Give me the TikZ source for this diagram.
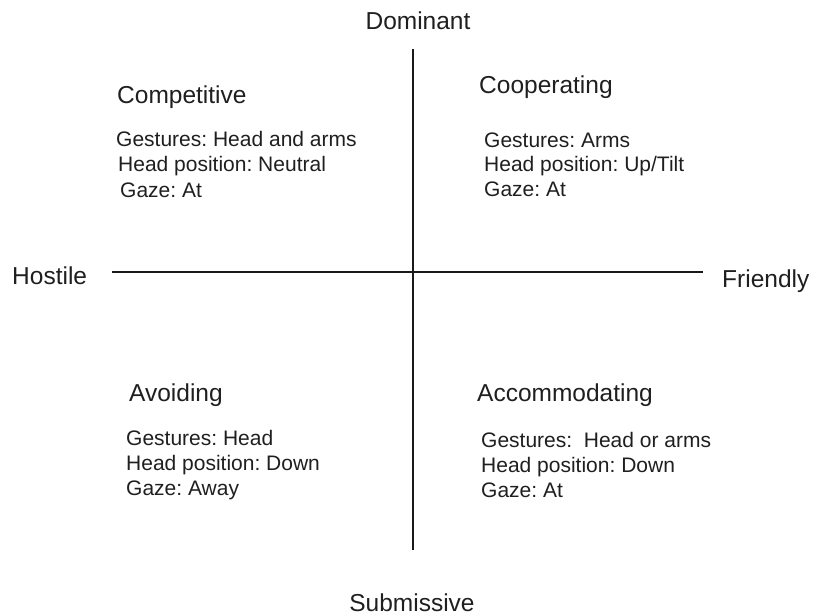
\documentclass[tikz,border=0pt]{standalone}
\usepackage{fontspec}
\setmainfont{Liberation Sans}
\begin{document}
\frenchspacing
\begin{tikzpicture}[x=1pt,y=-1pt,
  axis/.style={line width=2.4pt,draw=black!90},
  pole/.style={font=\fontsize{24.5}{28}\selectfont,text=black!88,inner sep=0pt},
  title/.style={font=\fontsize{24.5}{28}\selectfont,text=black!88,inner sep=0pt,anchor=base west},
  info/.style={font=\fontsize{21}{25}\selectfont,text=black!88,inner sep=0pt,anchor=base west}]
\useasboundingbox (0,0) rectangle (815,616);
% axes
\coordinate (top) at (413,49);
\coordinate (bottom) at (413,550);
\coordinate (left) at (112,272);
\coordinate (right) at (703,272);
\draw[axis] (top) -- (bottom);
\draw[axis] (left) -- (right);
% pole labels
\node[pole,anchor=base] (dom) at (418,29) {Dominant};
\node[pole,anchor=base] (sub) at (412,611) {Submissive};
\node[pole,anchor=base west] (hos) at (12,284) {Hostile};
\node[pole,anchor=base west] (fri) at (722,287) {Friendly};
% upper left
\node[title] (comp) at (117,103) {Competitive};
\node[info] (comp1) at (116,146) {Gestures: Head and arms};
\node[info] (comp2) at (118,171) {Head position: Neutral};
\node[info] (comp3) at (120,197) {Gaze: At};
% upper right
\node[title] (coop) at (479,93) {Cooperating};
\node[info] (coop1) at (484,147) {Gestures: Arms};
\node[info] (coop2) at (484,171) {Head position: Up/Tilt};
\node[info] (coop3) at (484,196) {Gaze: At};
% lower left
\node[title] (avoid) at (129,401) {Avoiding};
\node[info] (avoid1) at (126,445) {Gestures: Head};
\node[info] (avoid2) at (126,470) {Head position: Down};
\node[info] (avoid3) at (126,495) {Gaze: Away};
% lower right
\node[title] (acc) at (477,401) {Accommodating};
\node[info] (acc1) at (481,447) {Gestures:\ \ Head or arms};
\node[info] (acc2) at (481,472) {Head position: Down};
\node[info] (acc3) at (481,497) {Gaze: At};
\end{tikzpicture}
\end{document}
